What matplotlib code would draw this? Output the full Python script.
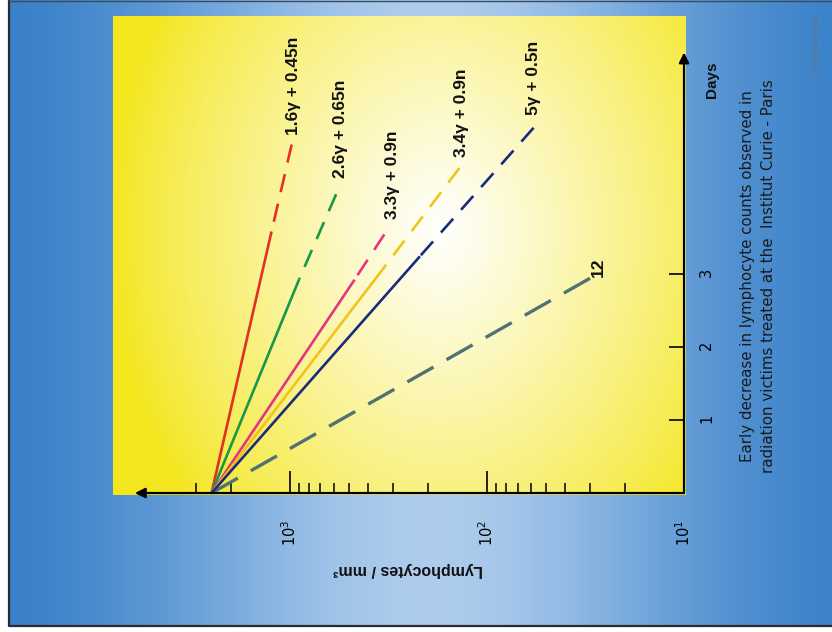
import numpy as np
import matplotlib
matplotlib.use("Agg")
import matplotlib.pyplot as plt
from matplotlib.ticker import FixedLocator, NullFormatter

# --- data: lymphocytes / mm3 versus days after exposure ---
start_count = 2500
series_labels = ["1.6γ + 0.45n", "2.6γ + 0.65n", "3.3γ + 0.9n",
                 "3.4γ + 0.9n", "5γ + 0.5n", "12"]
series_colors = ["#e0302a", "#17984a", "#e5357c", "#f0c419", "#1c2a7c", "#4f7272"]
solid_end_count = [1240, 900, 470, 330, 219, None]
solid_end_day = [3.58, 2.92, 2.92, 3.10, 3.24, None]
dash_end_count = [980, 583, 332, 138, 58, 30]
dash_end_day = [4.77, 4.09, 3.54, 4.45, 5.00, 2.94]
label_offsets = [(1.5, 7), (3, 12), (6, 11), (1.5, 8), (0, 9), (6, 1)]

day_ticks = [1, 2, 3]
count_major = [1000, 100, 10]
count_major_labels = ["$10^3$", "$10^2$", "$10^1$"]
count_minor = [3000, 2000, 900, 800, 700, 600, 500, 400, 300, 200,
               90, 80, 70, 60, 50, 40, 30, 20]

W, H = 832, 632
fig = plt.figure(figsize=(W / 100, H / 100), dpi=100)

# background: blue gradient with the yellow glow panel on top
bg = fig.add_axes([0, 0, 1, 1])
bg.set_xlim(0, W)
bg.set_ylim(H, 0)
bg.axis("off")
yy, xx = np.mgrid[0:H, 0:W].astype(float)
dark = np.array([0.17, 0.47, 0.77])
light = np.array([0.68, 0.80, 0.93])
f = np.exp(-((xx - 430) / 280) ** 2)[..., None]
img = dark + (light - dark) * f
img[(xx < 9) | (yy > 626)] = 1.0

px0, px1, py0, py1 = 113, 686, 16, 495
yel = np.array([0.957, 0.902, 0.118])
t = np.sqrt(((xx - 440) / 330) ** 2 + ((yy - 230) / 420) ** 2)
w = np.clip(1 - t, 0, 1)[..., None] ** 0.85
panel = yel + (1 - yel) * w
inside = (xx >= px0) & (xx < px1) & (yy >= py0) & (yy < py1)
img[inside] = panel[inside]
bg.imshow(img, extent=(0, W, H, 0), aspect="auto", interpolation="bilinear")
bg.plot([9, 9, W], [1, 625.5, 625.5], color="#2a2a30", lw=1.6)
bg.plot([9, W], [1, 1], color="#3a4a60", lw=1.0)

# chart axes: log counts on the horizontal axis (reversed), days vertical
ax = fig.add_axes([px0 / W, 1 - py1 / H, (px1 - px0) / W, (py1 - py0) / H])
ax.patch.set_alpha(0)
ax.set_xscale("log")
ax.set_xlim(10 ** 3.898, 10 ** 0.99)
ax.set_ylim(-0.027, 6.53)

for i, lab in enumerate(series_labels):
    c = series_colors[i]
    # dashed parts are drawn from their far end so the pattern ends on a dash
    if solid_end_count[i] is not None:
        ax.plot([start_count, solid_end_count[i]], [0, solid_end_day[i]],
                color=c, lw=1.9, solid_capstyle="butt", zorder=3)
        ax.plot([dash_end_count[i], solid_end_count[i]],
                [dash_end_day[i], solid_end_day[i]], color=c, lw=1.9,
                linestyle=(0, (7, 4.5)), dash_capstyle="butt", zorder=3)
    else:
        ax.plot([dash_end_count[i], start_count], [dash_end_day[i], 0],
                color=c, lw=2.4, linestyle=(0, (9, 4.5)),
                dash_capstyle="butt", zorder=2)
    ax.annotate(lab, xy=(dash_end_count[i], dash_end_day[i]),
                xytext=label_offsets[i], textcoords="offset points",
                rotation=90, ha="center", va="bottom", fontsize=12.5,
                fontweight="bold", family="Liberation Sans", color="#111111")

for s in ax.spines.values():
    s.set_visible(False)
ax.spines["bottom"].set_position(("data", 0))
ax.spines["right"].set_position(("data", 10))

ax.xaxis.set_major_locator(FixedLocator(count_major))
ax.xaxis.set_minor_locator(FixedLocator(count_minor))
ax.xaxis.set_minor_formatter(NullFormatter())
ax.set_xticklabels(count_major_labels)
ax.tick_params(axis="x", which="major", direction="in", length=16, width=1.2,
               pad=19, labelrotation=90, labelsize=10.5, color="black")
ax.tick_params(axis="x", which="minor", direction="in", length=7.5, width=1.1,
               color="black")

ax.yaxis.tick_right()
ax.set_yticks(day_ticks)
ax.set_yticklabels([str(d) for d in day_ticks])
ax.tick_params(axis="y", which="both", direction="in", length=11, width=1.2,
               pad=11, labelrotation=90, labelsize=10.5)
ax.yaxis.set_minor_locator(FixedLocator([]))

arrow = dict(arrowstyle="-|>", lw=1.6, color="black", mutation_scale=15,
             shrinkA=0, shrinkB=0)
ax.annotate("", xy=(10, 6.03), xytext=(10, 0), arrowprops=arrow)
ax.annotate("", xy=(10 ** 3.787, 0), xytext=(10, 0), arrowprops=arrow)

fig.text(408 / W, 1 - 570 / H, "Lymphocytes / mm³", rotation=180,
         ha="center", va="center", fontsize=11.5, fontweight="bold",
         family="Liberation Sans", color="#111111")
fig.text(712 / W, 1 - 80 / H, "Days", rotation=90, ha="center", va="center",
         fontsize=11, fontweight="bold", family="Liberation Sans", color="#111111")
fig.text(758 / W, 1 - 276 / H,
         "Early decrease in lymphocyte counts observed in\n"
         "radiation victims treated at the  Institut Curie - Paris",
         rotation=90, ha="center", va="center", multialignment="center",
         fontsize=10.8, linespacing=1.45, color="#1a1a1a")
fig.text(816 / W, 1 - 45 / H, "2018StarFrig4", rotation=90, ha="center",
         va="center", fontsize=6, color="#5f7391")

fig.savefig("out.png", dpi=100)
